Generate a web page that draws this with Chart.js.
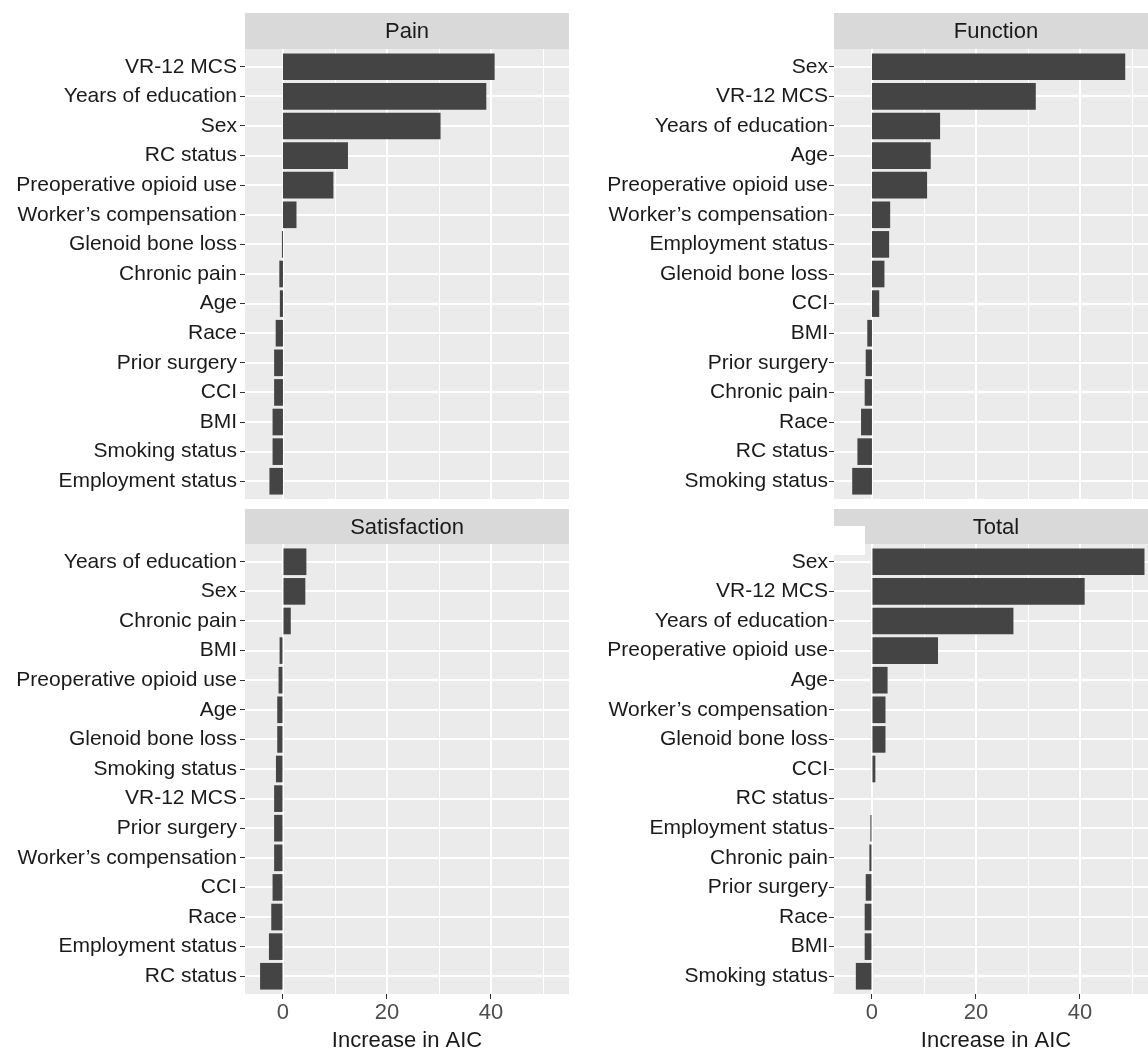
<!DOCTYPE html>
<html>
<head>
<meta charset="utf-8">
<script src="https://cdn.jsdelivr.net/npm/chart.js@4.4.1/dist/chart.umd.min.js"></script>
<style>
  html, body { margin: 0; padding: 0; background: #fff; overflow: hidden; }
  #wrap { position: relative; width: 1148px; height: 1052px; overflow: hidden; }
  .cell { position: absolute; width: 575px; }
  .cell canvas { display: block; }
  #patch { position: absolute; left: 834px; top: 526px; width: 31px; height: 29px; background: #fff; }
</style>
</head>
<body>
<div id="wrap">
  <div class="cell" style="left:0;top:0"><canvas id="pain" width="575" height="505"></canvas></div>
  <div class="cell" style="left:589px;top:0"><canvas id="function" width="575" height="505"></canvas></div>
  <div class="cell" style="left:0;top:505px"><canvas id="satisfaction" width="575" height="547"></canvas></div>
  <div class="cell" style="left:589px;top:505px"><canvas id="total" width="575" height="547"></canvas></div>
  <div id="patch"></div>
</div>
<script>
// values (increase in AIC when the variable is dropped)
const painLabels = ['VR-12 MCS', 'Years of education', 'Sex', 'RC status', 'Preoperative opioid use',
  'Worker\u2019s compensation', 'Glenoid bone loss', 'Chronic pain', 'Age', 'Race', 'Prior surgery',
  'CCI', 'BMI', 'Smoking status', 'Employment status'];
const painValues = [40.7, 39.1, 30.3, 12.5, 9.7, 2.6, -0.2, -0.7, -0.6, -1.4, -1.7, -1.7, -2.0, -2.0, -2.6];

const functionLabels = ['Sex', 'VR-12 MCS', 'Years of education', 'Age', 'Preoperative opioid use',
  'Worker\u2019s compensation', 'Employment status', 'Glenoid bone loss', 'CCI', 'BMI', 'Prior surgery',
  'Chronic pain', 'Race', 'RC status', 'Smoking status'];
const functionValues = [48.7, 31.5, 13.1, 11.3, 10.6, 3.5, 3.3, 2.4, 1.4, -0.9, -1.2, -1.4, -2.1, -2.8, -3.8];

const satisfactionLabels = ['Years of education', 'Sex', 'Chronic pain', 'BMI', 'Preoperative opioid use',
  'Age', 'Glenoid bone loss', 'Smoking status', 'VR-12 MCS', 'Prior surgery', 'Worker\u2019s compensation',
  'CCI', 'Race', 'Employment status', 'RC status'];
const satisfactionValues = [4.5, 4.3, 1.5, -0.65, -0.85, -1.1, -1.1, -1.35, -1.7, -1.7, -1.7, -2.0, -2.25, -2.7, -4.4];

const totalLabels = ['Sex', 'VR-12 MCS', 'Years of education', 'Preoperative opioid use', 'Age',
  'Worker\u2019s compensation', 'Glenoid bone loss', 'CCI', 'RC status', 'Employment status', 'Chronic pain',
  'Prior surgery', 'Race', 'BMI', 'Smoking status'];
const totalValues = [52.4, 40.9, 27.2, 12.7, 3.0, 2.6, 2.6, 0.65, 0.0, -0.3, -0.5, -1.2, -1.4, -1.4, -3.1];

const xGrid = [0, 10, 20, 30, 40, 50];
const xLabelled = [0, 20, 40];
const xMin = -7.3, xMax = 55;
const FONT = '"Liberation Sans", Arial, Helvetica, sans-serif';

// ggplot-ish panel: grey strip on top, grey panel with white grid
const facetPlugin = {
  id: 'facet',
  beforeDatasetsDraw(chart, args, opts) {
    const { ctx, chartArea: a, scales: { x, y } } = chart;
    ctx.save();
    ctx.fillStyle = '#d9d9d9';
    ctx.fillRect(a.left, opts.stripTop, a.right - a.left, a.top - opts.stripTop);
    ctx.fillStyle = '#1a1a1a';
    ctx.font = '22px ' + FONT;
    ctx.textAlign = 'center';
    ctx.textBaseline = 'middle';
    ctx.fillText(opts.title, (a.left + a.right) / 2, (opts.stripTop + a.top) / 2 + 1);

    ctx.fillStyle = '#ebebeb';
    ctx.fillRect(a.left, a.top, a.right - a.left, a.bottom - a.top);
    ctx.strokeStyle = '#ffffff';
    xGrid.forEach(v => {
      const px = Math.round(x.getPixelForValue(v));
      const major = xLabelled.includes(v);
      ctx.lineWidth = major ? 2 : 1;
      ctx.beginPath();
      ctx.moveTo(px + (major ? 0 : 0.5), a.top);
      ctx.lineTo(px + (major ? 0 : 0.5), a.bottom);
      ctx.stroke();
    });
    ctx.lineWidth = 2;
    opts.labels.forEach((_, i) => {
      const py = Math.round(y.getPixelForValue(i));
      ctx.beginPath();
      ctx.moveTo(a.left, py);
      ctx.lineTo(a.right, py);
      ctx.stroke();
    });
    ctx.restore();
  }
};

function makeFacet(id, title, labels, values, bottomRow, right) {
  const stripTop = bottomRow ? 4 : 13;
  new Chart(document.getElementById(id), {
    type: 'bar',
    data: {
      datasets: [{
        data: values.map((v, i) => ({ x: v, y: i })),
        backgroundColor: '#444444',
        borderWidth: 0,
        barPercentage: 0.9,
        categoryPercentage: 1.0
      }]
    },
    options: {
      indexAxis: 'y',
      responsive: false,
      animation: false,
      layout: { padding: { top: bottomRow ? 39 : 49, bottom: bottomRow ? 0 : 6, left: 0, right: 6 } },
      plugins: {
        legend: { display: false },
        tooltip: { enabled: false },
        facet: { title, stripTop, labels }
      },
      scales: {
        x: {
          type: 'linear',
          min: xMin,
          max: xMax,
          display: bottomRow,
          afterBuildTicks: axis => { axis.ticks = xGrid.map(v => ({ value: v })); },
          afterFit: s => { s.height = bottomRow ? 58 : 0; },
          grid: {
            drawOnChartArea: false,
            drawTicks: true,
            tickLength: 5,
            tickColor: c => xLabelled.includes(c.tick.value) ? '#333333' : 'rgba(0,0,0,0)'
          },
          border: { display: false },
          ticks: {
            padding: 1,
            color: '#4d4d4d',
            font: { family: FONT, size: 22 },
            maxRotation: 0,
            autoSkip: false,
            callback: v => xLabelled.includes(v) ? String(v) : ''
          },
          title: {
            display: true,
            text: 'Increase in AIC',
            color: '#1a1a1a',
            font: { family: FONT, size: 22, lineHeight: 1 },
            padding: { top: 0, bottom: 0 }
          }
        },
        y: {
          type: 'linear',
          min: -0.6,
          max: labels.length - 0.4,
          reverse: true,
          offset: false,
          afterBuildTicks: axis => { axis.ticks = labels.map((_, i) => ({ value: i })); },
          afterFit: s => { s.width = 245; s.paddingTop = 0; s.paddingBottom = 0; },
          grid: { drawOnChartArea: false, drawTicks: true, offset: false, tickLength: 5, tickColor: '#333333' },
          border: { display: false },
          ticks: {
            padding: right ? 1 : 3,
            color: '#1a1a1a',
            font: { family: FONT, size: 21, lineHeight: 0.5 },
            autoSkip: false,
            callback: v => labels[v]
          }
        }
      }
    },
    plugins: [facetPlugin]
  });
}

makeFacet('pain', 'Pain', painLabels, painValues, false, false);
makeFacet('function', 'Function', functionLabels, functionValues, false, true);
makeFacet('satisfaction', 'Satisfaction', satisfactionLabels, satisfactionValues, true, false);
makeFacet('total', 'Total', totalLabels, totalValues, true, true);
</script>
</body>
</html>
